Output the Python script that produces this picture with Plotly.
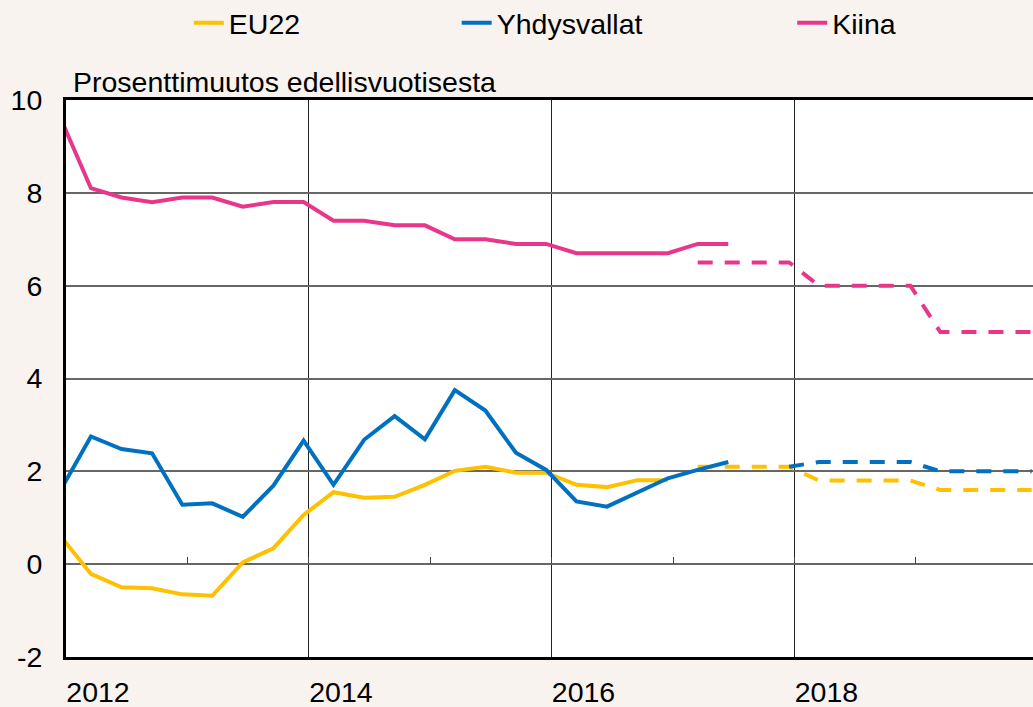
import plotly.graph_objects as go

# ---- data (quarterly, year-on-year % change) ----
quarters = ["2011Q4",
            "2012Q1", "2012Q2", "2012Q3", "2012Q4",
            "2013Q1", "2013Q2", "2013Q3", "2013Q4",
            "2014Q1", "2014Q2", "2014Q3", "2014Q4",
            "2015Q1", "2015Q2", "2015Q3", "2015Q4",
            "2016Q1", "2016Q2", "2016Q3", "2016Q4",
            "2017Q1", "2017Q2", "2017Q3", "2017Q4",
            "2018Q1", "2018Q2", "2018Q3", "2018Q4",
            "2019Q1", "2019Q2", "2019Q3", "2019Q4"]

eu22_actual = [0.6, -0.21, -0.50, -0.52, -0.65, -0.68, 0.04, 0.34, 1.06,
               1.55, 1.43, 1.45, 1.71, 2.01, 2.10, 1.97, 1.97, 1.71, 1.66,
               1.81, 1.81]                      # 2011Q4 .. 2016Q4
us_actual = [1.6, 2.75, 2.48, 2.39, 1.28, 1.31, 1.02, 1.69, 2.66, 1.71, 2.68,
             3.19, 2.69, 3.75, 3.31, 2.40, 2.03, 1.35, 1.24, 1.54, 1.85,
             2.03, 2.20]                        # 2011Q4 .. 2017Q2
china_actual = [9.6, 8.1, 7.9, 7.8, 7.9, 7.9, 7.7, 7.8, 7.8, 7.4, 7.4, 7.3,
                7.3, 7.0, 7.0, 6.9, 6.9, 6.7, 6.7, 6.7, 6.7, 6.9, 6.9]  # 2011Q4 .. 2017Q2

eu22_forecast = [2.1, 2.1, 2.1, 2.1, 1.8, 1.8, 1.8, 1.8, 1.6, 1.6, 1.6, 1.6]   # 2017Q1 .. 2019Q4
us_forecast = [2.1, 2.2, 2.2, 2.2, 2.2, 2.0, 2.0, 2.0, 2.0]                   # 2017Q4 .. 2019Q4
china_forecast = [6.5, 6.5, 6.5, 6.5, 6.0, 6.0, 6.0, 6.0, 5.0, 5.0, 5.0, 5.0]  # 2017Q1 .. 2019Q4

year_labels = ["2012", "2014", "2016", "2018"]
y_ticks = [-2, 0, 2, 4, 6, 8, 10]
y_tick_labels = ["-2", "0", "2", "4", "6", "8", "10"]
series_names = ["EU22", "Yhdysvallat", "Kiina"]
title_text = "Prosenttimuutos edellisvuotisesta"


def qdate(q):
    y, n = int(q[:4]), int(q[5])
    return f"{y}-{3 * n:02d}-16"


dates = [qdate(q) for q in quarters]
i17q1 = quarters.index("2017Q1")
i17q4 = quarters.index("2017Q4")

YELLOW = "#FFC000"
BLUE = "#0070C0"
PINK = "#E8378B"
BG = "#F8F3EE"
FONT = "Liberation Sans, Arial, sans-serif"
FS = 28.5
DASH = "15px,12px"

fig = go.Figure()
fig.add_trace(go.Scatter(x=dates[:len(eu22_actual)], y=eu22_actual, mode="lines",
                         name=series_names[0], line=dict(color=YELLOW, width=4),
                         legend="legend"))
fig.add_trace(go.Scatter(x=dates[i17q1:i17q1 + len(eu22_forecast)], y=eu22_forecast,
                         mode="lines", showlegend=False,
                         line=dict(color=YELLOW, width=4, dash=DASH)))
fig.add_trace(go.Scatter(x=dates[:len(us_actual)], y=us_actual, mode="lines",
                         name=series_names[1], line=dict(color=BLUE, width=4),
                         legend="legend2"))
fig.add_trace(go.Scatter(x=dates[i17q4:i17q4 + len(us_forecast)], y=us_forecast,
                         mode="lines", showlegend=False,
                         line=dict(color=BLUE, width=4, dash=DASH)))
fig.add_trace(go.Scatter(x=dates[:len(china_actual)], y=china_actual, mode="lines",
                         name=series_names[2], line=dict(color=PINK, width=4),
                         legend="legend3"))
fig.add_trace(go.Scatter(x=dates[i17q1:i17q1 + len(china_forecast)], y=china_forecast,
                         mode="lines", showlegend=False,
                         line=dict(color=PINK, width=4, dash=DASH)))

x_range = ["2012-01-01", "2019-12-20"]
grid_dates = [f"{y}-01-01" for y in year_labels]
minor_dates = [f"{y}-01-01" for y in range(2012, 2020)]

legend_common = dict(orientation="h", yanchor="middle", y=1.138, xanchor="left",
                     bgcolor="rgba(0,0,0,0)", font=dict(size=FS, family=FONT, color="#000"))

fig.update_layout(
    width=1033, height=707,
    margin=dict(l=66, r=0, t=100, b=50, autoexpand=False),
    paper_bgcolor=BG, plot_bgcolor="#FFFFFF",
    font=dict(family=FONT, size=FS, color="#000"),
    legend=dict(x=0.127, **legend_common),
    legend2=dict(x=0.404, **legend_common),
    legend3=dict(x=0.751, **legend_common),
    xaxis=dict(type="date", range=x_range, tickvals=grid_dates, ticktext=year_labels,
               showgrid=True, gridcolor="#222", gridwidth=1,
               showline=True, linecolor="#000", linewidth=3,
               ticks="", ticklabelshift=32, ticklabelstandoff=8,
               tickfont=dict(size=FS, family=FONT), zeroline=False, automargin=False),
    xaxis2=dict(type="date", range=x_range, overlaying="x", side="top",
                showline=True, linecolor="#000", linewidth=2.5, automargin=False,
                showgrid=False, showticklabels=False, ticks="", zeroline=False),
    xaxis3=dict(type="date", range=x_range, overlaying="x", anchor="free",
                position=2 / 12, tickvals=minor_dates, ticks="inside", ticklen=7,
                tickwidth=1.3, tickcolor="#444", showline=False, showgrid=False,
                showticklabels=False, zeroline=False, automargin=False),
    yaxis=dict(range=[-2, 10], tickvals=y_ticks, ticktext=y_tick_labels,
               showgrid=True, gridcolor="#666",
               gridwidth=1.5, showline=True, linecolor="#000", linewidth=3,
               ticks="", ticklabelstandoff=15, zeroline=False, automargin=False,
               tickfont=dict(size=FS, family=FONT)),
    annotations=[dict(text=title_text, xref="paper", yref="paper", x=0.005, y=1.0,
                      xanchor="left", yanchor="bottom", showarrow=False,
                      font=dict(size=FS, family=FONT, color="#000"), yshift=0)],
)

# invisible traces to activate the overlay axes
fig.add_trace(go.Scatter(x=[dates[1]], y=[0], xaxis="x2", mode="none", showlegend=False,
                         hoverinfo="skip"))
fig.add_trace(go.Scatter(x=[dates[1]], y=[0], xaxis="x3", mode="none", showlegend=False,
                         hoverinfo="skip"))

fig.write_html("out.html", config={"displayModeBar": False},
               post_script="document.body.style.margin='0';")
